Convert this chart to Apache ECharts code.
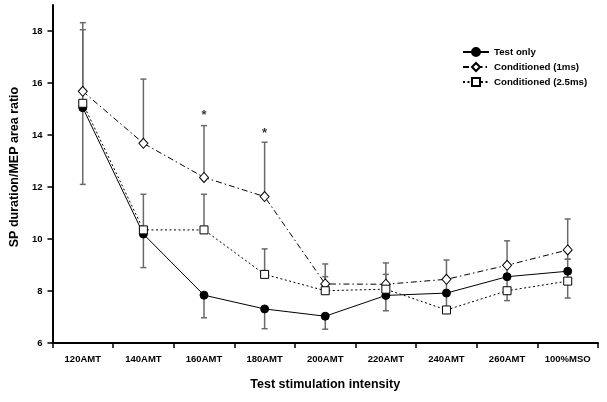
<!DOCTYPE html>
<html><head><meta charset="utf-8">
<script src="https://cdn.jsdelivr.net/npm/echarts@6/dist/echarts.min.js"></script>
<style>html,body{margin:0;padding:0;background:#fff}#c{width:607px;height:402px}</style>
</head><body><div id="c"></div>
<script>
const categories = ['120AMT','140AMT','160AMT','180AMT','200AMT','220AMT','240AMT','260AMT','100%MSO'];
const yTicks = [6, 8, 10, 12, 14, 16, 18];

const testOnly     = [15.05, 10.19, 7.84, 7.31, 7.03, 7.83, 7.92, 8.55, 8.76];
const testOnlyLow  = [12.1, 8.9, 6.97, 6.55, 6.53, 7.24, 7.3, 8.01, null];
const testOnlyHigh = [18.05, null, null, null, null, null, null, null, 9.22];

const cond1     = [15.68, 13.68, 12.37, 11.63, 8.27, 8.26, 8.45, 8.99, 9.58];
const cond1Low  = [null, null, null, null, null, null, 7.92, 8.55, 9.22];
const cond1High = [18.32, 16.15, 14.36, 13.72, 9.04, 9.08, 9.19, 9.93, 10.77];

const cond25     = [15.22, 10.35, 10.35, 8.64, 8.01, 8.07, 7.27, 8.01, 8.38];
const cond25Low  = [null, null, null, null, null, null, null, 7.63, 7.73];
const cond25High = [null, 11.72, 11.72, 9.62, 8.55, 8.64, null, null, 8.76];

const starCategories = ['160AMT', '180AMT'];
const starValues = [14.76, 14.06];

const FONT = '"Liberation Sans", Arial, sans-serif';

function errData(vals, lo, hi) {
  const out = [];
  vals.forEach((v, i) => {
    if (lo[i] == null && hi[i] == null) return;
    out.push([i, lo[i] == null ? v : lo[i], hi[i] == null ? v : hi[i], lo[i] == null ? 0 : 1, hi[i] == null ? 0 : 1]);
  });
  return out;
}
const errorData = [].concat(
  errData(testOnly, testOnlyLow, testOnlyHigh),
  errData(cond1, cond1Low, cond1High),
  errData(cond25, cond25Low, cond25High)
);

function renderErr(params, api) {
  const i = api.value(0);
  const p1 = api.coord([i, api.value(1)]);
  const p2 = api.coord([i, api.value(2)]);
  const w = 3;
  const style = { stroke: '#6a6a6a', lineWidth: 1.5, fill: null };
  const children = [{ type: 'line', shape: { x1: p1[0], y1: p1[1], x2: p2[0], y2: p2[1] }, style }];
  if (api.value(3)) children.push({ type: 'line', shape: { x1: p1[0] - w, y1: p1[1], x2: p1[0] + w, y2: p1[1] }, style });
  if (api.value(4)) children.push({ type: 'line', shape: { x1: p2[0] - w, y1: p2[1], x2: p2[0] + w, y2: p2[1] }, style });
  return { type: 'group', children };
}

const chart = echarts.init(document.getElementById('c'), null, { renderer: 'canvas' });
chart.setOption({
  animation: false,
  backgroundColor: '#fff',
  textStyle: { fontFamily: FONT },
  grid: { left: 51, right: 9, top: 5, bottom: 59, containLabel: false },
  legend: {
    orient: 'vertical', left: 457, top: 42, itemWidth: 26, itemHeight: 10, itemGap: 5,
    textStyle: { fontFamily: FONT, fontWeight: 'bold', fontSize: 9.7, color: '#000' },
    data: ['Test only', 'Conditioned (1ms)', 'Conditioned (2.5ms)']
  },
  xAxis: {
    type: 'category', data: categories, boundaryGap: true,
    name: 'Test stimulation intensity', nameLocation: 'middle', nameGap: 35,
    nameTextStyle: { fontFamily: FONT, fontWeight: 'bold', fontSize: 12.5, color: '#000' },
    axisLine: { lineStyle: { color: '#000', width: 2 } },
    axisTick: { show: true, length: 5, lineStyle: { color: '#000', width: 1.5 } },
    axisLabel: { fontFamily: FONT, fontWeight: 'bold', fontSize: 9.5, color: '#000', margin: 11, interval: 0 },
    splitLine: { show: false }
  },
  yAxis: {
    type: 'value', min: 6, max: 19, interval: 2,
    name: 'SP duration/MEP area ratio', nameLocation: 'middle', nameGap: 30,
    nameTextStyle: { fontFamily: FONT, fontWeight: 'bold', fontSize: 12.5, color: '#000', padding: [0, 0, 0, 14] },
    axisLine: { show: true, lineStyle: { color: '#000', width: 2 } },
    axisTick: { show: true, length: 5, customValues: yTicks, lineStyle: { color: '#000', width: 1.5 } },
    axisLabel: { fontFamily: FONT, fontWeight: 'bold', fontSize: 9.5, color: '#000', margin: 10, customValues: yTicks },
    splitLine: { show: false }
  },
  series: [
    { type: 'custom', name: 'err', renderItem: renderErr, data: errorData, z: 1, silent: true, encode: { x: 0, y: [1, 2] } },
    { type: 'line', name: 'Test only', data: testOnly, z: 3,
      symbol: 'circle', symbolSize: 8,
      lineStyle: { color: '#000', width: 1 },
      itemStyle: { color: '#000', borderColor: '#000', borderWidth: 1 } },
    { type: 'line', name: 'Conditioned (1ms)', data: cond1, z: 3,
      symbol: 'diamond', symbolSize: [9, 10],
      lineStyle: { color: '#000', width: 1, type: [6, 3, 1.5, 3] },
      itemStyle: { color: '#fff', borderColor: '#000', borderWidth: 1 } },
    { type: 'line', name: 'Conditioned (2.5ms)', data: cond25, z: 3,
      symbol: 'rect', symbolSize: 8,
      lineStyle: { color: '#000', width: 1, type: [2, 2.5] },
      itemStyle: { color: '#fff', borderColor: '#000', borderWidth: 1 } },
    { type: 'scatter', name: 'stars', data: starCategories.map((c, k) => [c, starValues[k]]),
      symbolSize: 1, itemStyle: { color: 'rgba(0,0,0,0)' }, z: 4, silent: true,
      label: { show: true, position: 'inside', formatter: '*', fontFamily: FONT, fontWeight: 'bold', fontSize: 13, color: '#000' } }
  ]
});
</script>
</body></html>
